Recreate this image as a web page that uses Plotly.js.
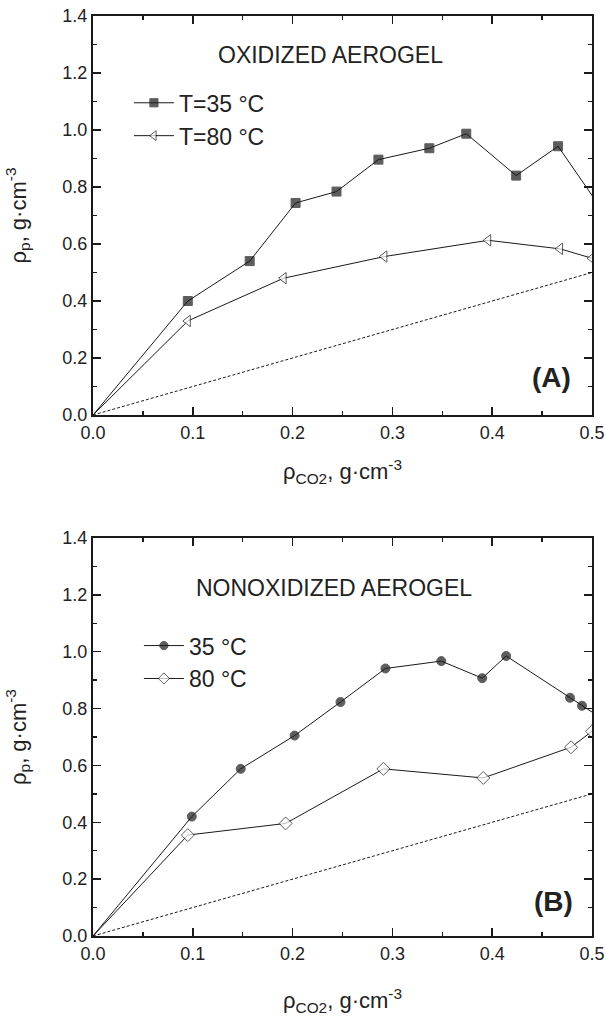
<!DOCTYPE html>
<html>
<head>
<meta charset="utf-8">
<script src="https://cdn.plot.ly/plotly-3.0.1.min.js"></script>
<style>html,body{margin:0;padding:0;background:#fff;}#chart{width:606px;height:1021px;}</style>
</head>
<body>
<div id="chart"></div>
<script>
// ---- Data ----
// Panel A: oxidized aerogel
const oxX35 = [0, 0.095, 0.157, 0.203, 0.244, 0.286, 0.337, 0.374, 0.424, 0.466, 0.51];
const oxY35 = [0, 0.40, 0.54, 0.744, 0.784, 0.896, 0.936, 0.987, 0.840, 0.943, 0.72];
const oxX80 = [0, 0.095, 0.191, 0.292, 0.396, 0.468, 0.5];
const oxY80 = [0, 0.33, 0.48, 0.556, 0.613, 0.583, 0.55];
// Panel B: nonoxidized aerogel
const noX35 = [0, 0.099, 0.148, 0.202, 0.248, 0.293, 0.349, 0.390, 0.414, 0.478, 0.490, 0.51];
const noY35 = [0, 0.42, 0.588, 0.705, 0.823, 0.941, 0.967, 0.907, 0.985, 0.838, 0.810, 0.765];
const noX80 = [0, 0.095, 0.193, 0.291, 0.391, 0.479, 0.5];
const noY80 = [0, 0.355, 0.396, 0.588, 0.556, 0.664, 0.72];
// Reference line rho_p = rho_CO2
const refX = [0, 0.5];
const refY = [0, 0.5];
// Labels
const legendA = ['T=35 °C', 'T=80 °C'];
const legendB = ['35 °C', '80 °C'];
const titleA = 'OXIDIZED AEROGEL';
const titleB = 'NONOXIDIZED AEROGEL';
const xTitle = 'ρ<sub>CO2</sub>, g·cm<sup>-3</sup>';
const yTitle = 'ρ<sub>p</sub>, g·cm<sup>-3</sup>';

const FONT = 'Liberation Sans, Arial, Helvetica, sans-serif';
const INK = '#1a1a1a';
const sizesFor = (xs, s) => xs.map(v => v === 0 ? 0 : s);

function series(xs, ys, name, symbol, size, fill, xa, ya, leg) {
  return {
    type: 'scatter', mode: 'lines+markers', x: xs, y: ys, name: name,
    xaxis: xa, yaxis: ya, legend: leg,
    line: {color: INK, width: 1},
    marker: {symbol: symbol, size: sizesFor(xs, size), color: fill, line: {color: INK, width: 1}}
  };
}
function refLine(xa, ya) {
  return {type: 'scatter', mode: 'lines', x: refX, y: refY, xaxis: xa, yaxis: ya,
    showlegend: false, hoverinfo: 'skip', line: {color: INK, width: 1, dash: '3px,2px'}};
}

const data = [
  refLine('x', 'y'),
  series(oxX35, oxY35, legendA[0], 'square', 9, INK, 'x', 'y', 'legend'),
  series(oxX80, oxY80, legendA[1], 'triangle-left', 10, '#fff', 'x', 'y', 'legend'),
  refLine('x2', 'y2'),
  series(noX35, noY35, legendB[0], 'circle', 9, INK, 'x2', 'y2', 'legend2'),
  series(noX80, noY80, legendB[1], 'diamond', 10, '#fff', 'x2', 'y2', 'legend2')
];

function xAxis(anchor, standoff) {
  return {
    anchor: anchor, domain: [0, 1], range: [0, 0.5], dtick: 0.1, tick0: 0, tickformat: '.1f',
    ticks: 'inside', ticklen: 8, tickwidth: 1.5, tickcolor: INK,
    minor: {dtick: 0.05, ticks: 'inside', ticklen: 4, tickwidth: 1.5, tickcolor: INK},
    showline: true, linewidth: 2, linecolor: INK, mirror: 'ticks',
    showgrid: false, zeroline: false,
    tickfont: {family: FONT, size: 18, color: '#222'},
    title: {text: xTitle, font: {family: FONT, size: 22, color: '#222'}, standoff: standoff}
  };
}
function yAxis(anchor, domain) {
  return {
    anchor: anchor, domain: domain, range: [0, 1.4], dtick: 0.2, tick0: 0, tickformat: '.1f',
    ticks: 'inside', ticklen: 8, tickwidth: 1.5, tickcolor: INK,
    minor: {dtick: 0.1, ticks: 'inside', ticklen: 4, tickwidth: 1.5, tickcolor: INK},
    showline: true, linewidth: 2, linecolor: INK, mirror: 'ticks',
    showgrid: false, zeroline: false,
    tickfont: {family: FONT, size: 18, color: '#222'},
    title: {text: yTitle, font: {family: FONT, size: 22, color: '#222'}, standoff: 30}
  };
}

const legendStyle = {
  font: {family: FONT, size: 23, color: '#222'}, bgcolor: 'rgba(0,0,0,0)',
  borderwidth: 0, xanchor: 'left', yanchor: 'top', tracegroupgap: 0, itemwidth: 40
};

const layout = {
  width: 606, height: 1021,
  margin: {l: 93, r: 14, t: 16, b: 85},
  paper_bgcolor: '#fff', plot_bgcolor: '#fff',
  font: {family: FONT, color: '#222'},
  xaxis: xAxis('y', 22),
  yaxis: yAxis('x', [0.5663, 1]),
  xaxis2: xAxis('y2', 30),
  yaxis2: yAxis('x2', [0, 0.4326]),
  legend: Object.assign({x: 0.072, y: 0.929}, legendStyle),
  legend2: Object.assign({x: 0.092, y: 0.339}, legendStyle),
  annotations: [
    {xref: 'x', yref: 'y', x: 0.238, y: 1.263, text: titleA, showarrow: false,
     font: {family: FONT, size: 23, color: '#222'}},
    {xref: 'x2', yref: 'y2', x: 0.241, y: 1.225, text: titleB, showarrow: false,
     font: {family: FONT, size: 23, color: '#222'}},
    {xref: 'x', yref: 'y', x: 0.459, y: 0.133, text: '<b>(A)</b>', showarrow: false,
     font: {family: FONT, size: 28, color: '#222'}},
    {xref: 'x2', yref: 'y2', x: 0.461, y: 0.123, text: '<b>(B)</b>', showarrow: false,
     font: {family: FONT, size: 28, color: '#222'}}
  ],
  showlegend: true
};

Plotly.newPlot('chart', data, layout, {displayModeBar: false, staticPlot: true});
</script>
</body>
</html>
